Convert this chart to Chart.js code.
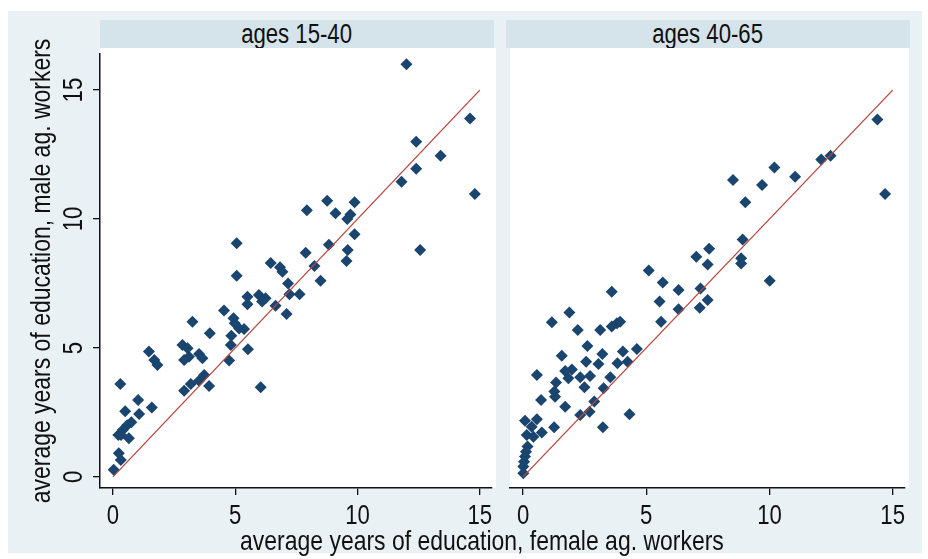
<!DOCTYPE html>
<html>
<head>
<meta charset="utf-8">
<script src="https://cdn.jsdelivr.net/npm/chart.js@4"></script>
<style>
  body { margin: 0; background: #fff; }
  #wrap { position: relative; width: 928px; height: 559px; overflow: hidden; }
  #bg { position: absolute; left: 8px; top: 11px; width: 914px; height: 542px; background: #e9f1f4; }
  .strip { position: absolute; top: 20px; height: 28px; background: #d5e3ea; color: #111;
           font: 27px "Liberation Sans", Arial, sans-serif; line-height: 29px; text-align: center; }
  .narrow { display: inline-block; transform: scaleX(0.82); white-space: nowrap; }
  canvas { position: absolute; top: 0; }
  #xtitle { position: absolute; left: 0; width: 964px; top: 526px; text-align: center; color: #111;
            font: 28px "Liberation Sans", Arial, sans-serif; line-height: 30px; }
</style>
</head>
<body>
<div id="wrap">
  <div id="bg"></div>
  <div class="strip" style="left:100px;width:394px"><span class="narrow" id="s1"></span></div>
  <div class="strip" style="left:506px;width:404px"><span class="narrow" id="s2"></span></div>
  <canvas id="c1" width="500" height="559" style="left:0"></canvas>
  <canvas id="c2" width="428" height="559" style="left:500px"></canvas>
  <div id="xtitle"><span class="narrow" id="xt"></span></div>
</div>
<script>
const panelTitles = ["ages 15-40", "ages 40-65"];
const xTitle = "average years of education, female ag. workers";
const yTitle = "average years of education, male ag. workers";
const tickValues = [0, 5, 10, 15];
const diagonal = [0, 15];

// ages 15-40: female (x) and male (y) average years of education
const youngFemale = [12.0, 14.6, 12.4, 13.4, 12.4, 11.8, 14.8, 8.76, 7.93, 9.88, 9.1, 9.71, 9.58, 9.88,
  8.83, 7.88, 9.6, 9.55, 12.56, 5.06, 6.45, 6.83, 6.93, 8.24, 5.06, 7.16, 8.49, 7.22, 7.63,
  5.5, 5.5, 5.97, 6.1, 6.24, 6.65, 7.1, 4.54, 3.25, 3.96, 4.93, 4.98, 5.16, 5.36, 4.84, 4.82,
  5.52, 4.75, 1.47, 1.69, 1.82, 2.84, 3.05, 2.91, 3.11, 3.52, 3.66, 3.73, 2.91, 3.18, 3.52, 3.93,
  6.04, 0.3, 1.03, 0.5, 1.07, 1.59, 0.75, 0.58, 0.4, 0.22, 0.65, 0.33, 0.24, 0.32, 0.03];
const youngMale = [16.0, 13.9, 13.0, 12.45, 11.95, 11.45, 10.97, 10.71, 10.34, 10.65, 10.22, 10.18, 10.0, 9.41,
  9.0, 8.69, 8.8, 8.37, 8.8, 9.06, 8.3, 8.13, 7.96, 8.18, 7.8, 7.5, 7.61, 7.08, 7.08,
  6.99, 6.7, 7.05, 6.8, 6.93, 6.64, 6.32, 6.45, 6.02, 5.57, 6.15, 5.96, 5.76, 5.74, 5.47, 5.12,
  4.95, 4.51, 4.86, 4.53, 4.34, 5.12, 4.99, 4.53, 4.66, 4.77, 4.6, 3.95, 3.34, 3.6, 3.73, 3.53,
  3.48, 3.6, 2.98, 2.55, 2.44, 2.69, 2.12, 2.0, 1.82, 1.63, 1.5, 1.63, 0.92, 0.66, 0.28];

// ages 40-65
const olderFemale = [14.38, 12.1, 12.48, 10.2, 11.04, 8.52, 9.7, 9.02, 14.69, 8.91, 7.55, 7.03, 7.49, 8.85,
  8.85, 5.1, 5.67, 6.31, 7.2, 5.54, 6.31, 7.17, 7.49, 10.01, 5.6, 3.6, 1.88, 1.17, 2.22, 3.13,
  3.6, 3.81, 3.94, 2.61, 1.57, 3.22, 4.05, 4.62, 2.56, 3.06, 3.83, 4.24, 1.71, 1.98, 1.84, 2.32,
  2.72, 0.56, 3.54, 2.49, 3.27, 1.34, 1.27, 1.3, 0.73, 1.71, 2.89, 2.7, 2.32, 4.32, 3.24, 1.26,
  0.08, 0.56, 0.35, 0.76, 0.15, 0.42, 0.18, 0.12, 0.08, 0.04, 0.01, 0.01];
const olderMale = [13.86, 12.31, 12.45, 12.0, 11.64, 11.51, 11.32, 10.65, 10.97, 9.21, 8.85, 8.54, 8.24, 8.48,
  8.28, 8.0, 7.54, 7.25, 7.31, 6.8, 6.5, 6.56, 6.86, 7.61, 6.02, 7.18, 6.38, 6.0, 5.7, 5.7,
  5.83, 5.96, 6.02, 5.08, 4.7, 4.77, 4.86, 4.96, 4.47, 4.38, 4.41, 4.47, 4.11, 4.17, 3.83, 3.86,
  3.91, 3.95, 3.86, 3.48, 3.44, 3.66, 3.31, 3.11, 2.98, 2.72, 2.92, 2.53, 2.4, 2.43, 1.93, 1.93,
  2.18, 2.24, 1.95, 1.72, 1.63, 1.56, 1.18, 0.98, 0.79, 0.59, 0.4, 0.14];

const FONT = '"Liberation Sans", Arial, sans-serif';
const NARROW = 0.82;   // Stata output uses a condensed face
const NAVY = '#1a456f';
const RED = '#b8463d';

document.getElementById('s1').textContent = panelTitles[0];
document.getElementById('s2').textContent = panelTitles[1];
document.getElementById('xt').textContent = xTitle;

const toPoints = (xs, ys) => xs.map((x, i) => ({ x: x, y: ys[i] }));

// condensed text, optionally rotated
const drawText = (ctx, text, x, y, angle, size) => {
  ctx.save();
  ctx.translate(x, y);
  ctx.rotate(angle);
  ctx.scale(NARROW, 1);
  ctx.fillStyle = '#111';
  ctx.font = size + 'px ' + FONT;
  ctx.textAlign = 'center';
  ctx.textBaseline = 'middle';
  ctx.fillText(text, 0, 0);
  ctx.restore();
};

// white plot region
const plotBg = {
  id: 'plotBg',
  beforeDraw(chart) {
    const a = chart.chartArea;
    const ctx = chart.ctx;
    ctx.save();
    ctx.fillStyle = '#fff';
    ctx.fillRect(a.left, a.top - 6, a.right - a.left + 4, a.bottom - a.top + 6);
    ctx.restore();
  }
};

// tick labels and y title, Stata style (y labels vertical)
const axisText = {
  id: 'axisText',
  afterDraw(chart) {
    const ctx = chart.ctx;
    const sx = chart.scales.x;
    sx.ticks.forEach(t => drawText(ctx, String(t.value), sx.getPixelForValue(t.value), 517, 0, 27));
    const sy = chart.scales.y;
    if (!sy.options.display) return;
    sy.ticks.forEach(t => drawText(ctx, String(t.value), sy.right - 25, sy.getPixelForValue(t.value), -Math.PI / 2, 27));
    const a = chart.chartArea;
    drawText(ctx, yTitle, 42, (a.top + a.bottom) / 2, -Math.PI / 2, 28);
  }
};

const makeChart = (canvasId, xs, ys, showY, padding) => new Chart(document.getElementById(canvasId), {
  data: {
    datasets: [{
      type: 'line',
      data: toPoints(diagonal, diagonal),
      borderColor: RED,
      borderWidth: 1.3,
      pointRadius: 0,
      order: 0
    }, {
      type: 'scatter',
      data: toPoints(xs, ys),
      pointStyle: 'rectRot',
      pointRadius: 6,
      backgroundColor: NAVY,
      borderWidth: 0,
      order: 1
    }]
  },
  options: {
    responsive: false,
    animation: false,
    layout: { padding: padding },
    plugins: { legend: { display: false }, tooltip: { enabled: false } },
    scales: {
      x: {
        type: 'linear',
        min: -0.53,
        max: 15.5,
        afterFit: s => { s.height = 71; },
        afterBuildTicks: s => { s.ticks = tickValues.map(v => ({ value: v })); },
        grid: { drawOnChartArea: false, tickLength: 7, color: '#111', lineWidth: 1.3 },
        border: { color: '#111', width: 1.5 },
        ticks: { display: false }
      },
      y: {
        type: 'linear',
        display: showY,
        min: -0.43,
        max: 16.4,
        afterFit: s => { s.width = showY ? 100 : 0; },
        afterBuildTicks: s => { s.ticks = tickValues.map(v => ({ value: v })); },
        grid: { drawOnChartArea: false, tickLength: 7, color: '#111', lineWidth: 1.3 },
        border: { color: '#111', width: 1.5 },
        ticks: { display: false }
      }
    }
  },
  plugins: [plotBg, axisText]
});

makeChart('c1', youngFemale, youngMale, true, { left: 0, top: 54, right: 8, bottom: 0 });
makeChart('c2', olderFemale, olderMale, false, { left: 10, top: 54, right: 23, bottom: 0 });
</script>
</body>
</html>
